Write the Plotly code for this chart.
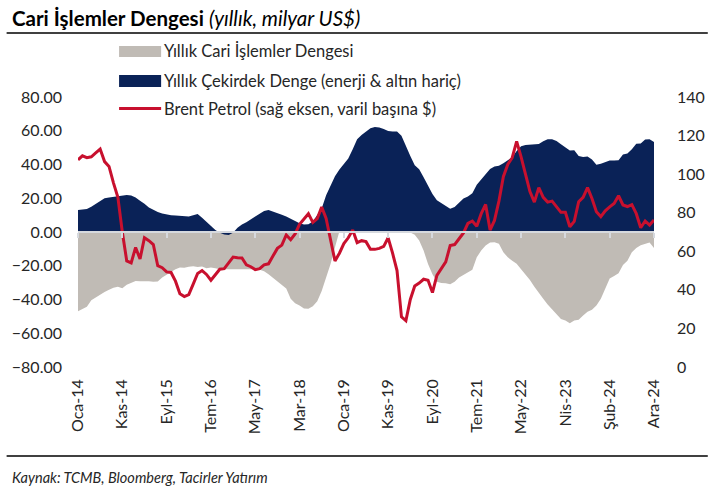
import plotly.graph_objects as go

# ---------------- data ----------------
tick_labels = ["Oca-14", "Kas-14", "Eyl-15", "Tem-16", "May-17", "Mar-18", "Oca-19",
               "Kas-19", "Eyl-20", "Tem-21", "May-22", "Nis-23", "Şub-24", "Ara-24"]

cari_denge = [  # Yıllık Cari İşlemler Dengesi (milyar US$)
    -47, -45.8, -44.3, -40.5, -38.8, -37, -35.5, -34.2, -33, -32.5, -33.3, -31.3, -30, -29,
    -29.2, -29, -29.2, -29.5, -29.3, -27, -25.3, -23.4, -22, -21, -21.2, -20.6, -20.3, -20.8,
    -20.5, -21.5, -21, -21.5, -22,
    -22, -22, -22.2, -22.2, -22.2, -22, -21.8, -22, -22.3, -23.3, -25, -27, -29, -31, -33.5,
    -39.5, -42.2, -43.5, -45.3, -45.5, -44, -41, -35, -27, -19, -9, 0.5,
    2, 4, 5, 6, 7, 7.5, 8, 8.5, 8, 7, 6, 5, 3, 1,
    0.3, -0.3, -1.7, -5, -11, -19, -25, -29.5, -30.2, -30.3, -31, -29.5, -27, -25.5, -24,
    -22.3, -15, -11, -8, -6.2, -6, -7, -12, -15, -17, -18.8,
    -22, -25, -28.5, -32.5, -36.3, -39.5, -43, -46, -49, -51.5, -52.5, -54, -52.5, -52, -49.5,
    -47.3, -46, -43.6, -39.5, -33, -27.5, -26, -24.5, -19.5, -17, -12, -9.5, -7.8, -7, -6.2, -9.5,
]

cekirdek_denge = [  # Yıllık Çekirdek Denge (enerji & altın hariç)
    13, 13.5, 13.7, 15, 16.5, 18.5, 20, 20.5, 20.8, 21.3, 21.6, 22, 21.7, 20.5, 18.5, 16.8,
    14.5, 13, 11.8, 11, 10.4, 10, 9.8, 9.6, 9.4, 9.2, 10, 10.6, 8.5, 6.2, 3.8, 1.2, -0.5,
    -1.5, -1.8, -0.5, 2.5, 4.5, 5.8, 7.5, 9.5, 11, 12.5, 13, 12.2, 11.2, 10.2, 9.2, 7.8, 6.2,
    5.2, 4.5, 4.6, 6.2, 10, 14, 21.8, 27.6, 33, 37, 40, 43.5, 49, 55, 57.5, 59.5, 61.5,
    62.2, 62, 61, 59.8, 59.6, 59.6, 57, 50.5, 45, 39.5, 37.2, 32.5, 27, 22.5, 18.8, 17.2,
    15.8, 13.8, 14.8, 17.5, 19.8, 21, 23, 28, 31, 34.5, 37.3, 38.8, 39.3, 40.8, 42.5, 44.3, 48,
    50.8, 51.5, 51.7, 51.7, 52.2, 53.8, 55, 55, 54, 52, 50, 48.3, 48.5, 45, 44.4, 44.8, 43,
    39.8, 40.5, 41.5, 42.4, 42.4, 42.5, 46, 46.5, 49, 52.3, 52.5, 54.8, 55, 53.3,
]

brent = [  # Brent Petrol ($/varil, sağ eksen)
    107.4, 109.5, 108.5, 109, 111, 113, 106.5, 104, 95.5, 88, 70, 55, 54, 62, 56, 67, 65.5,
    63.5, 52.5, 51.5, 49.3, 49, 44.5, 38, 36.5, 37.5, 43, 48.5, 50, 48, 45, 48, 50.7,
    51, 54, 57, 56.6, 56.5, 53, 52, 50.5, 51, 53, 53.5, 57.5, 61.5, 63.2, 68.5, 66, 69, 74,
    76.5, 79.5, 75, 77, 83, 77, 66, 55, 59, 64, 67, 71, 64.5, 65.5, 65, 61,
    61, 61.5, 62.5, 67, 59, 50, 26, 24, 35, 42, 43.5, 45.5, 45, 38.6, 47.5, 51, 54.5, 63,
    63.5, 66.5, 69.5, 74.5, 75.7, 73, 79.5, 84.3, 71, 76, 86, 98.7, 105, 108.5, 117,
    109, 100, 91, 85.5, 93, 88, 85.5, 86, 83, 80.2, 80.2, 72.7, 75.5, 85.7, 88, 93, 87.4,
    80.5, 78, 81, 83, 84.8, 88.8, 84, 83.2, 84.2, 79.5, 72.2, 75.7, 73.6, 76.2,
]

series_names = ["Yıllık Cari İşlemler Dengesi",
                "Yıllık Çekirdek Denge (enerji & altın hariç)",
                "Brent Petrol (sağ eksen, varil başına $)"]

# ---------------- styling ----------------
FONT = "Lato"
TXT = "#262626"
GRAY = "#c0bbb5"
NAVY = "#0a2257"
RED = "#c8102e"
ZERO = "#d6d9de"

W, H = 717, 491
L, R, T, B = 73, 55, 97, 124
PW, PH = W - L - R, H - T - B

def px(xp):
    return (xp - L) / PW

def py(yp):
    return (H - B - yp) / PH

n = len(cari_denge)
x = list(range(n))
tick_pos = list(range(0, n, 10))[:len(tick_labels)]

fig = go.Figure()
fig.add_trace(go.Scatter(x=x, y=cari_denge, name=series_names[0], mode="lines",
                         line=dict(width=0, color=GRAY), fill="tozeroy", fillcolor=GRAY,
                         showlegend=False, hoverinfo="skip"))
fig.add_trace(go.Scatter(x=x, y=cekirdek_denge, name=series_names[1], mode="lines",
                         line=dict(width=0, color=NAVY), fill="tozeroy", fillcolor=NAVY,
                         showlegend=False, hoverinfo="skip"))
# carrier for the zero-line axis with its small ticks
fig.add_trace(go.Scatter(x=[None], y=[None], xaxis="x2", yaxis="y", showlegend=False,
                         hoverinfo="skip"))
fig.add_trace(go.Scatter(x=x, y=brent, name=series_names[2], mode="lines",
                         line=dict(width=3, color=RED), yaxis="y2",
                         showlegend=False, hoverinfo="skip"))

tickfont = dict(family=FONT, size=16, color=TXT)

fig.update_layout(
    width=W, height=H,
    margin=dict(l=L, r=R, t=T, b=B, pad=0),
    paper_bgcolor="white", plot_bgcolor="white",
    font=dict(family=FONT, color=TXT),
    xaxis=dict(range=[0, n - 1], tickvals=tick_pos, ticktext=tick_labels, tickangle=-90,
               ticks="", showline=False, showgrid=False, zeroline=False,
               tickfont=tickfont, ticklabelstandoff=8),
    xaxis2=dict(range=[0, n - 1], overlaying="x", anchor="free", position=0.5,
                tickvals=tick_pos, ticks="outside", ticklen=5, tickwidth=1.5,
                tickcolor=ZERO, showline=True, linecolor=ZERO, linewidth=1.5,
                showticklabels=False, showgrid=False, zeroline=False,
                layer="above traces"),
    yaxis=dict(range=[-80, 80], tickvals=list(range(-80, 81, 20)), tickformat=".2f",
               showgrid=False, zeroline=False, showline=False, ticks="",
               tickfont=tickfont, ticklabelstandoff=15),
    yaxis2=dict(range=[0, 140], tickvals=list(range(0, 141, 20)), overlaying="y",
                side="right", showgrid=False, zeroline=False, showline=False, ticks="",
                tickfont=tickfont, ticklabelstandoff=22),
    showlegend=False,
)

shapes = []
annotations = []
# title rule and bottom rule
shapes.append(dict(type="line", xref="paper", yref="paper", x0=px(0), x1=px(W),
                   y0=py(33), y1=py(33), line=dict(color="#000000", width=1.3)))
shapes.append(dict(type="line", xref="paper", yref="paper", x0=px(0), x1=px(W),
                   y0=py(456), y1=py(456), line=dict(color="#000000", width=1.3)))

# legend (manual, to reproduce the wide swatches)
shapes.append(dict(type="rect", xref="paper", yref="paper", x0=px(115), x1=px(158),
                   y0=py(57), y1=py(46), fillcolor=GRAY, line=dict(width=0)))
shapes.append(dict(type="rect", xref="paper", yref="paper", x0=px(115), x1=px(158),
                   y0=py(87), y1=py(75), fillcolor=NAVY, line=dict(width=0)))
shapes.append(dict(type="line", xref="paper", yref="paper", x0=px(115), x1=px(158),
                   y0=py(108.5), y1=py(108.5), line=dict(color=RED, width=3)))
for name, yc in zip(series_names, [51, 80.5, 109]):
    annotations.append(dict(text=name, xref="paper", yref="paper", x=px(159), y=py(yc),
                            xanchor="left", yanchor="middle", showarrow=False,
                            font=dict(family=FONT, size=16.5, color=TXT)))

annotations.append(dict(text="<b>Cari İşlemler Dengesi</b> <i>(yıllık, milyar US$)</i>",
                        xref="paper", yref="paper", x=px(3), y=py(18),
                        xanchor="left", yanchor="middle", showarrow=False,
                        font=dict(family=FONT, size=20.5, color="#000000")))
annotations.append(dict(text="<i>Kaynak: TCMB, Bloomberg, Tacirler Yatırım</i>",
                        xref="paper", yref="paper", x=px(3), y=py(477.5),
                        xanchor="left", yanchor="middle", showarrow=False,
                        font=dict(family=FONT, size=14.5, color=TXT)))

fig.update_layout(shapes=shapes, annotations=annotations)
fig.write_html("out.html", config={"displayModeBar": False},
               post_script=["document.body.style.margin='0px';"
                            "document.body.style.overflow='hidden';"])
